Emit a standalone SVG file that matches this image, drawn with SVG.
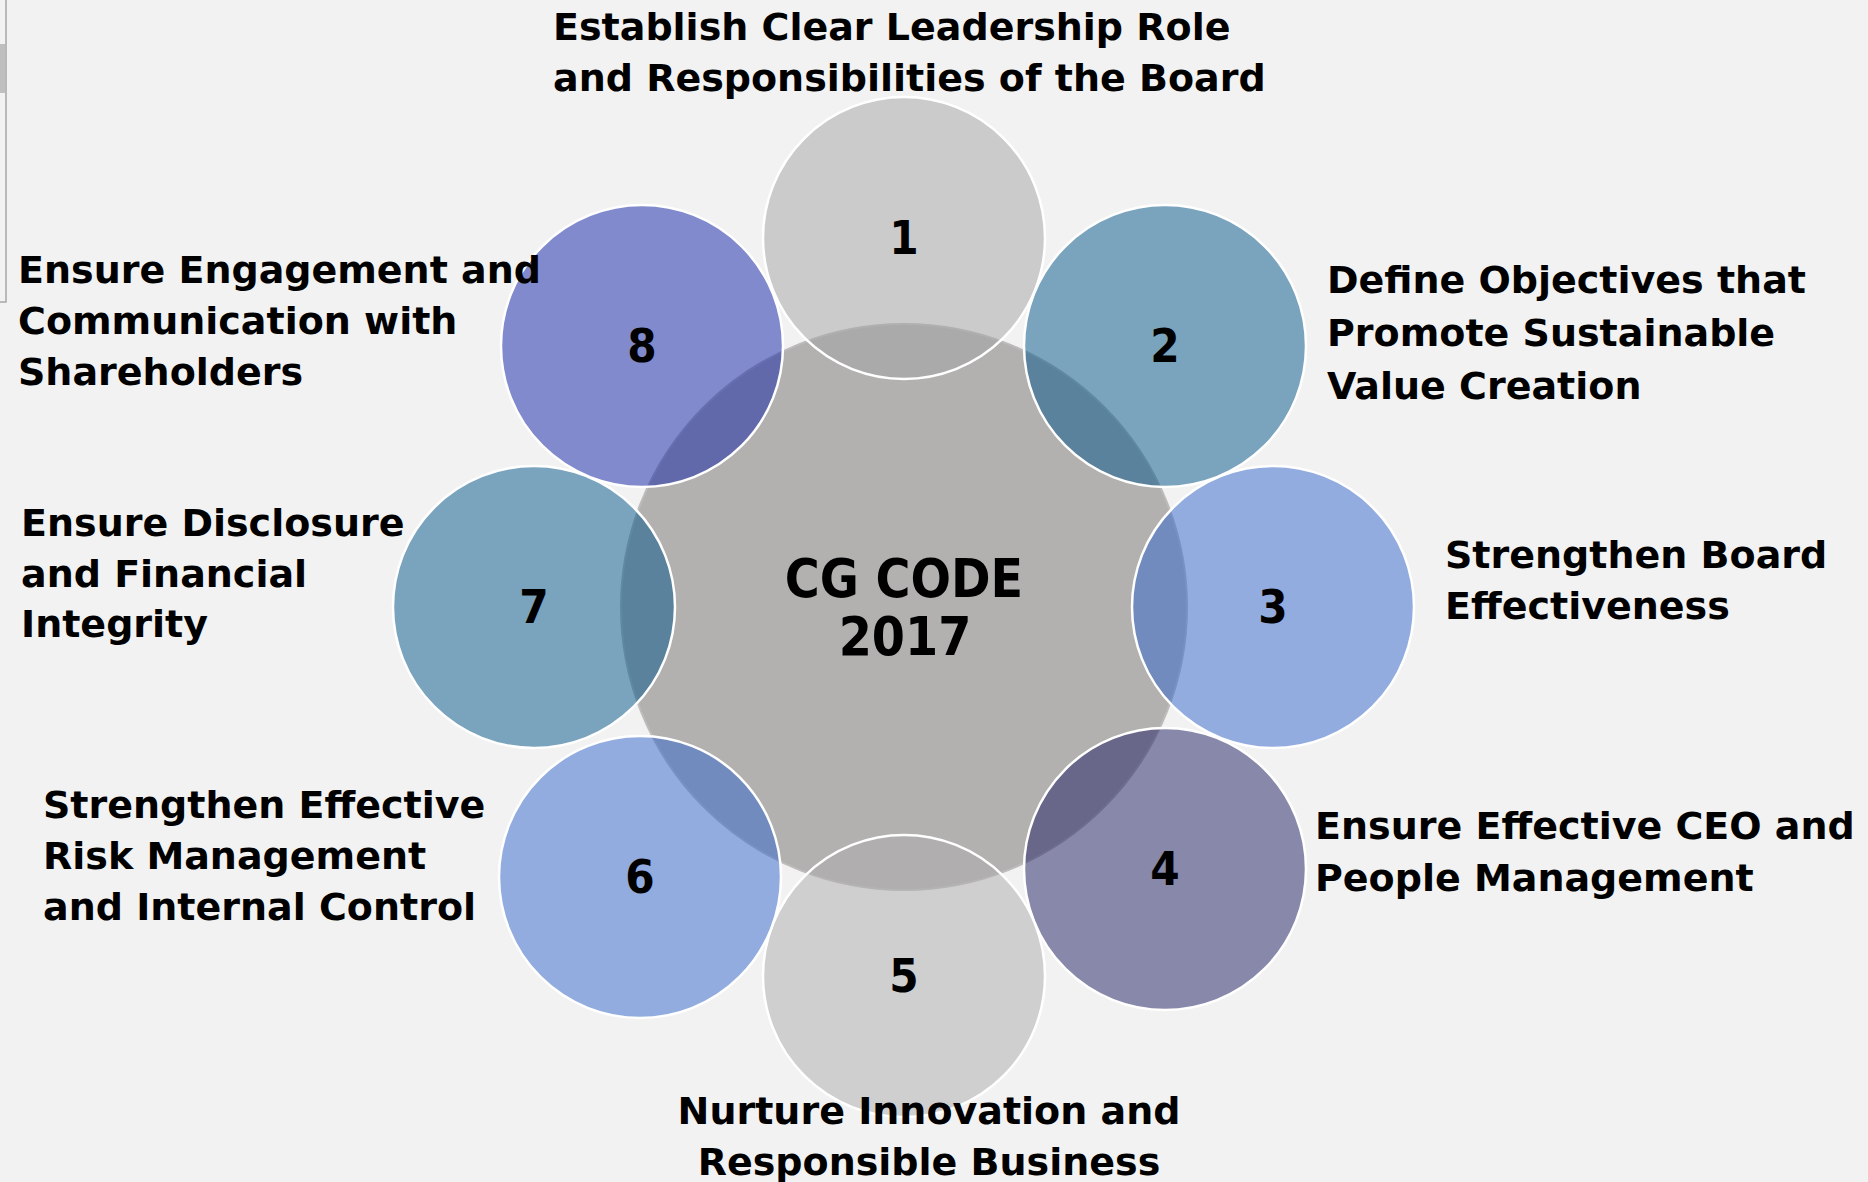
<svg xmlns="http://www.w3.org/2000/svg" width="1868" height="1182" viewBox="0 0 1868 1182">
  <style>
    .label { font-family: "DejaVu Sans", "Liberation Sans", sans-serif; font-weight: bold; font-size: 38px; fill: #000; }
    .num { font-family: "DejaVu Sans Condensed", "DejaVu Sans", sans-serif; font-weight: bold; font-stretch: condensed; font-size: 47px; fill: #000; text-anchor: middle; }
    .hub-text { font-family: "DejaVu Sans Condensed", "DejaVu Sans", sans-serif; font-weight: bold; font-stretch: condensed; font-size: 53px; fill: #000; text-anchor: middle; }
    .petal { stroke: #ffffff; stroke-width: 2.5; fill-opacity: 0.5; }
    .hub { fill: #b2b1b0; stroke: #bdbcbb; stroke-width: 2; }
  </style>

  <!-- page background -->
  <rect x="0" y="0" width="1868" height="1182" fill="#f2f2f2"/>

  <!-- edge of a neighbouring panel at the top-left -->
  <g id="panel-edge">
    <rect x="0" y="44" width="5" height="49" fill="#bfbfbf"/>
    <polyline points="6,0 6,302 0,302" fill="none" stroke="#a6a6a6" stroke-width="1.5"/>
  </g>

  <!-- central circle -->
  <g id="hub">
    <circle class="hub" cx="904" cy="607" r="283"/>
  </g>

  <!-- eight surrounding circles -->
  <g id="node-1"><circle class="petal" cx="904" cy="238" r="141" fill="#a4a4a4"/></g>
  <g id="node-2"><circle class="petal" cx="1165" cy="346" r="141" fill="#025488"/></g>
  <g id="node-3"><circle class="petal" cx="1273" cy="607" r="141" fill="#3266cc"/></g>
  <g id="node-4"><circle class="petal" cx="1165" cy="869" r="141" fill="#1e1e64"/></g>
  <g id="node-5"><circle class="petal" cx="904" cy="976" r="141" fill="#aeacae"/></g>
  <g id="node-6"><circle class="petal" cx="640" cy="877" r="141" fill="#3266cc"/></g>
  <g id="node-7"><circle class="petal" cx="534" cy="607" r="141" fill="#025488"/></g>
  <g id="node-8"><circle class="petal" cx="642" cy="346" r="141" fill="#1022a6"/></g>

  <g id="connectors"/>

  <!-- numbers -->
  <g id="numbers">
    <text class="num" x="904" y="254">1</text>
    <text class="num" x="1165" y="362">2</text>
    <text class="num" x="1273" y="623">3</text>
    <text class="num" x="1165" y="885">4</text>
    <text class="num" x="904" y="992">5</text>
    <text class="num" x="640" y="893">6</text>
    <text class="num" x="534" y="623">7</text>
    <text class="num" x="642" y="362">8</text>
  </g>

  <!-- hub title -->
  <g id="hub-title">
    <text class="hub-text" x="904" y="597">CG CODE</text>
    <text class="hub-text" x="905" y="655">2017</text>
  </g>

  <!-- principle labels -->
  <g id="label-1">
    <text class="label" x="553" y="40">Establish Clear Leadership Role</text>
    <text class="label" x="553" y="91">and Responsibilities of the Board</text>
  </g>
  <g id="label-2">
    <text class="label" x="1327" y="293">Define Objectives that</text>
    <text class="label" x="1327" y="346">Promote Sustainable</text>
    <text class="label" x="1327" y="399">Value Creation</text>
  </g>
  <g id="label-3">
    <text class="label" x="1445" y="568">Strengthen Board</text>
    <text class="label" x="1445" y="619">Effectiveness</text>
  </g>
  <g id="label-4">
    <text class="label" x="1315" y="839">Ensure Effective CEO and</text>
    <text class="label" x="1315" y="891">People Management</text>
  </g>
  <g id="label-5">
    <text class="label" x="929" y="1124" text-anchor="middle">Nurture Innovation and</text>
    <text class="label" x="929" y="1175" text-anchor="middle">Responsible Business</text>
  </g>
  <g id="label-6">
    <text class="label" x="43" y="818">Strengthen Effective</text>
    <text class="label" x="43" y="869">Risk Management</text>
    <text class="label" x="43" y="920">and Internal Control</text>
  </g>
  <g id="label-7">
    <text class="label" x="21" y="536">Ensure Disclosure</text>
    <text class="label" x="21" y="587">and Financial</text>
    <text class="label" x="21" y="637">Integrity</text>
  </g>
  <g id="label-8">
    <text class="label" x="18" y="283">Ensure Engagement and</text>
    <text class="label" x="18" y="334">Communication with</text>
    <text class="label" x="18" y="385">Shareholders</text>
  </g>
</svg>
